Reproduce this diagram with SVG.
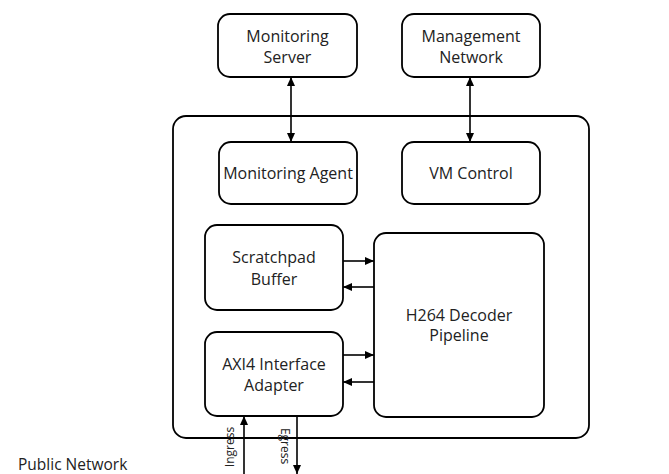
<svg xmlns="http://www.w3.org/2000/svg" width="669" height="474" viewBox="0 0 669 474">
<defs>
<marker id="ah" viewBox="0 0 9 8" markerWidth="9" markerHeight="8" refX="9" refY="4" orient="auto-start-reverse" markerUnits="userSpaceOnUse">
<path d="M0,0 L9,4 L0,8 z" fill="#000"/>
</marker>
<style>
.box{fill:#fff;stroke:#000;stroke-width:1.8}
.lbl{font-family:"Open Sans","Liberation Sans",sans-serif;font-size:16px;fill:#222;text-anchor:middle}
.sm{font-family:"Open Sans","Liberation Sans",sans-serif;font-size:12px;fill:#222;text-anchor:middle}
.c{stroke:#000;stroke-width:1.6;fill:none}
</style>
</defs>
<rect width="669" height="474" fill="#fff"/>
<g id="container"><rect class="box" x="173" y="116" width="416" height="322" rx="13"/></g>
<g id="monitoring-server"><rect class="box" x="218" y="14" width="139" height="63" rx="12"/><text class="lbl" x="287.5" y="42">Monitoring</text><text class="lbl" x="287.5" y="63">Server</text></g>
<g id="management-network"><rect class="box" x="402" y="14" width="138" height="63" rx="12"/><text class="lbl" x="471" y="42">Management</text><text class="lbl" x="471" y="63">Network</text></g>
<g id="monitoring-agent"><rect class="box" x="219" y="142" width="138" height="62" rx="12"/><text class="lbl" x="288" y="179">Monitoring Agent</text></g>
<g id="vm-control"><rect class="box" x="402" y="142" width="138" height="62" rx="12"/><text class="lbl" x="471" y="179">VM Control</text></g>
<g id="scratchpad-buffer"><rect class="box" x="205" y="225" width="138" height="85" rx="12"/><text class="lbl" x="274" y="263">Scratchpad</text><text class="lbl" x="274" y="285">Buffer</text></g>
<g id="h264-decoder"><rect class="box" x="374" y="233" width="170" height="184" rx="12"/><text class="lbl" x="459" y="320.5">H264 Decoder</text><text class="lbl" x="459" y="341">Pipeline</text></g>
<g id="axi4-adapter"><rect class="box" x="205" y="332" width="138" height="84" rx="12"/><text class="lbl" x="274" y="369.5">AXI4 Interface</text><text class="lbl" x="274" y="391">Adapter</text></g>
<g id="public-network"><text x="18" y="470" style="font-family:'Open Sans','Liberation Sans',sans-serif;font-size:15.5px;fill:#222">Public Network</text></g>
<g id="connectors">
<line class="c" x1="291" y1="77" x2="291" y2="142" marker-start="url(#ah)" marker-end="url(#ah)"/>
<line class="c" x1="470" y1="77" x2="470" y2="142" marker-start="url(#ah)" marker-end="url(#ah)"/>
<line class="c" x1="343" y1="261" x2="374" y2="261" marker-end="url(#ah)"/>
<line class="c" x1="374" y1="287" x2="343" y2="287" marker-end="url(#ah)"/>
<line class="c" x1="343" y1="355" x2="374" y2="355" marker-end="url(#ah)"/>
<line class="c" x1="374" y1="382" x2="343" y2="382" marker-end="url(#ah)"/>
<line class="c" x1="244" y1="474" x2="244" y2="416" marker-end="url(#ah)"/>
<line class="c" x1="297" y1="416" x2="297" y2="474" marker-end="url(#ah)"/>
<text class="sm" transform="translate(234,447) rotate(-90)">Ingress</text>
<text class="sm" transform="translate(281,446) rotate(90)">Egress</text>
</g>
</svg>
